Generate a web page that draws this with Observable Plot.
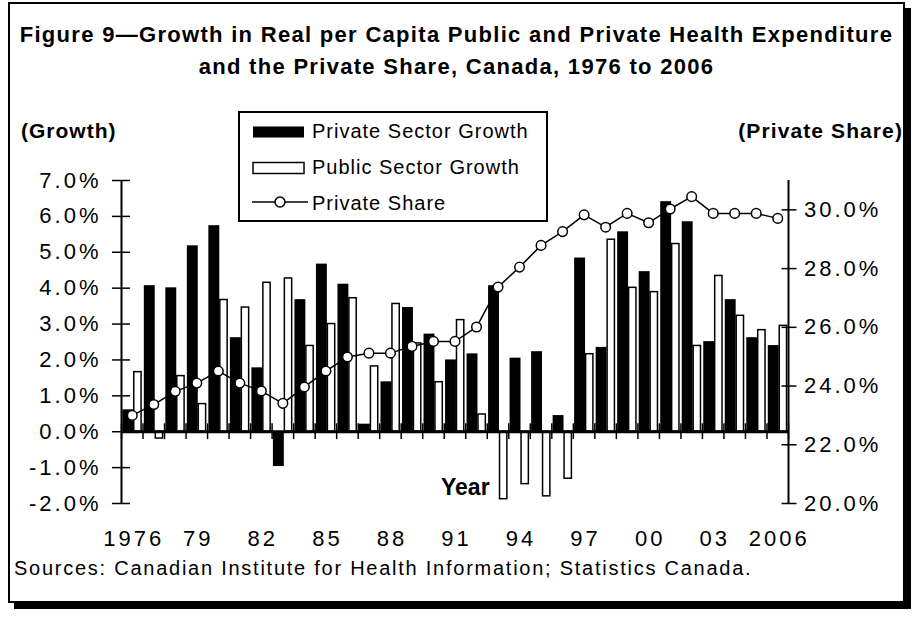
<!DOCTYPE html>
<html>
<head>
<meta charset="utf-8">
<script src="https://cdn.jsdelivr.net/npm/d3@7"></script>
<script src="https://cdn.jsdelivr.net/npm/@observablehq/plot@0.6"></script>
<style>
  html, body { margin: 0; padding: 0; background: #fff; }
  #page { position: relative; width: 917px; height: 617px; overflow: hidden; font-family: "Liberation Sans", Arial, sans-serif; color: #000; }
  #frame { position: absolute; left: 8px; top: 2px; width: 893px; height: 597px; border: 2px solid #000; box-shadow: 6px 6px 0 0 #000; background: #fff; }
  .abs { position: absolute; white-space: nowrap; }
  #title { left: 8px; width: 897px; top: 19px; text-align: center; font-weight: bold; font-size: 22px; letter-spacing: 1.3px; line-height: 32px; }
  #chart { position: absolute; left: 0; top: 0; }
  #chart svg g[aria-label="y-axis tick label"] text, #chart svg g[aria-label="x-axis tick label"] text { letter-spacing: 3px; }
  #legend { position: absolute; left: 238px; top: 111px; width: 306px; height: 107px; border: 2px solid #000; background: #fff; }
  .lg { position: absolute; left: 72px; font-size: 20px; letter-spacing: 1px; line-height: 24px; }
  .sw { position: absolute; left: 12px; }
</style>
</head>
<body>
<div id="page">
  <div id="frame"></div>
  <div id="title" class="abs">Figure 9—Growth in Real per Capita Public and Private Health Expenditure<br>and the Private Share, Canada, 1976 to 2006</div>
  <div id="chart"></div>
  <div class="abs" style="left:21px; top:119px; font-weight:bold; font-size:21px; letter-spacing:1px;">(Growth)</div>
  <div class="abs" style="right:14px; top:119px; font-weight:bold; font-size:21px; letter-spacing:1.1px;">(Private Share)</div>
  <div class="abs" style="left:441px; top:474px; font-weight:bold; font-size:23px;">Year</div>
  <div class="abs" style="left:14px; top:557px; font-size:20px; letter-spacing:1.75px;">Sources: Canadian Institute for Health Information; Statistics Canada.</div>
  <div id="legend">
    <svg class="sw" style="top:12px" width="54" height="14"><rect x="1" y="1.5" width="51" height="11" fill="#000"/></svg>
    <div class="lg" style="top:6px">Private Sector Growth</div>
    <svg class="sw" style="top:48px" width="54" height="14"><rect x="1" y="1.5" width="51" height="11" fill="#fff" stroke="#000" stroke-width="1.5"/></svg>
    <div class="lg" style="top:42px">Public Sector Growth</div>
    <svg class="sw" style="top:81px" width="60" height="16"><line x1="0" x2="56" y1="8" y2="8" stroke="#000" stroke-width="1.5"/><circle cx="28" cy="8" r="5" fill="#fff" stroke="#000" stroke-width="1.5"/></svg>
    <div class="lg" style="top:78px">Private Share</div>
  </div>
</div>
<script>
const years = [1976,1977,1978,1979,1980,1981,1982,1983,1984,1985,1986,1987,1988,1989,1990,1991,1992,1993,1994,1995,1996,1997,1998,1999,2000,2001,2002,2003,2004,2005,2006];
const privateGrowth = [0.61,4.07,4.01,5.18,5.74,2.62,1.78,-0.97,3.68,4.67,4.11,0.21,1.39,3.46,2.72,2.00,2.17,4.07,2.05,2.23,0.45,4.84,2.35,5.57,4.46,6.41,5.85,2.51,3.68,2.62,2.40];
const publicGrowth = [1.66,-0.19,1.55,0.77,3.67,3.46,4.15,4.27,2.39,3.00,3.72,1.82,3.56,2.46,1.38,3.11,0.48,-1.88,-1.46,-1.80,-1.31,2.16,5.35,4.01,3.89,5.23,2.39,4.34,3.23,2.83,2.95];
const privateShare = [23.00,23.37,23.82,24.10,24.51,24.10,23.83,23.41,23.97,24.51,24.99,25.12,25.12,25.35,25.52,25.52,26.01,27.37,28.05,28.79,29.26,29.83,29.41,29.88,29.56,30.03,30.45,29.88,29.88,29.88,29.71];
const leftTicks = [-2,-1,0,1,2,3,4,5,6,7];
const rightTicks = [20,22,24,26,28,30];
const xTickYears = [1976,1979,1982,1985,1988,1991,1994,1997,2000,2003,2006];
const xTickLabels = ["1976","79","82","85","88","91","94","97","00","03","2006"];

const growthDomain = [-2, 7];
const shareDomain = [20, 31];
const toY = s => growthDomain[0] + (s - shareDomain[0]) * (growthDomain[1] - growthDomain[0]) / (shareDomain[1] - shareDomain[0]);
const fromY = y => shareDomain[0] + (y - growthDomain[0]) * (shareDomain[1] - shareDomain[0]) / (growthDomain[1] - growthDomain[0]);

const rows = years.map((year, i) => ({year, priv: privateGrowth[i], pub: publicGrowth[i], share: privateShare[i]}));
const boundaries = [...years, years[years.length - 1] + 1];

const W = 917, H = 617, mL = 121, mR = 129, mT = 180, mB = 114;
const bw = (W - mL - mR) / years.length;
const ls = 3;
const fs = 22;

const chart = Plot.plot({
  width: W, height: H,
  marginLeft: mL, marginRight: mR, marginTop: mT, marginBottom: mB,
  style: {background: "transparent", fontFamily: "'Liberation Sans', Arial, sans-serif", fontSize: fs + "px", color: "#000", overflow: "visible"},
  x: {type: "linear", domain: [years[0], years[years.length - 1] + 1], axis: null},
  y: {domain: growthDomain, axis: null},
  marks: [
    Plot.rectY(rows, {x: "year", interval: 1, y1: 0, y2: "priv", fill: "#000", insetLeft: 1.3, insetRight: 9.3}),
    Plot.rectY(rows, {x: "year", interval: 1, y1: 0, y2: "pub", fill: "#fff", stroke: "#000", strokeWidth: 1.5, insetLeft: 12.75, insetRight: 1.45}),
    Plot.ruleY([0], {stroke: "#000", strokeWidth: 3}),
    Plot.ruleX(boundaries, {y1: -0.22, y2: 0.22, stroke: "#000", strokeWidth: 1.5}),
    Plot.ruleX([boundaries[0]], {y1: growthDomain[0], y2: growthDomain[1], stroke: "#000", strokeWidth: 2}),
    Plot.ruleX([boundaries[boundaries.length - 1]], {y1: growthDomain[0], y2: growthDomain[1], stroke: "#000", strokeWidth: 2}),
    Plot.axisY({anchor: "left", ticks: leftTicks, tickFormat: d => d.toFixed(1) + "%", tickSize: 18, dx: 9, tickPadding: 11, strokeWidth: 1.5, label: null, fontSize: fs, fontVariant: "normal"}),
    Plot.axisY({anchor: "right", ticks: rightTicks.map(toY), tickFormat: d => fromY(d).toFixed(1) + "%", tickSize: 15, dx: -7.5, tickPadding: 8, strokeWidth: 1.5, label: null, fontSize: fs, fontVariant: "normal"}),
    Plot.axisX({anchor: "bottom", ticks: xTickYears, tickFormat: d => xTickLabels[xTickYears.indexOf(d)], tickSize: 0, tickPadding: 27, dx: bw / 2 + ls / 2, label: null, fontSize: fs, fontVariant: "normal"}),
    Plot.line(rows, {x: "year", y: d => toY(d.share), dx: bw / 2, stroke: "#000", strokeWidth: 1.5}),
    Plot.dot(rows, {x: "year", y: d => toY(d.share), dx: bw / 2, r: 4.8, fill: "#fff", stroke: "#000", strokeWidth: 1.5})
  ]
});
document.getElementById("chart").appendChild(chart);
</script>
</body>
</html>
